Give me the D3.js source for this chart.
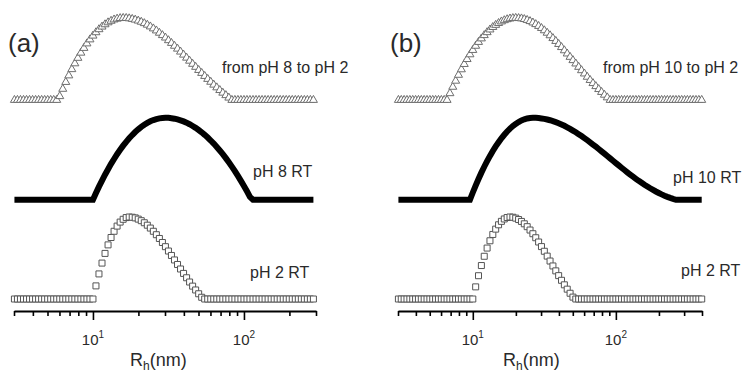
<!DOCTYPE html>
<html>
<head>
<meta charset="utf-8">
<script src="https://cdn.jsdelivr.net/npm/d3@7"></script>
<style>
  body { margin: 0; background: #fff; }
  svg { display: block; }
  text { font-family: "Liberation Sans", Arial, sans-serif; fill: #2a2a2a; }
</style>
</head>
<body>
<svg id="chart" width="746" height="373"></svg>
<script>
// hydrodynamic radius grid (nm), shared by every curve
const rh = [
  3.020, 3.162, 3.311, 3.467, 3.631, 3.802, 3.981, 4.169, 4.365, 4.571,
  4.786, 5.012, 5.248, 5.495, 5.754, 6.026, 6.310, 6.607, 6.918, 7.244,
  7.586, 7.943, 8.318, 8.710, 9.120, 9.550,
  10.00, 10.47, 10.96, 11.48, 12.02, 12.59, 13.18, 13.80, 14.45, 15.14,
  15.85, 16.60, 17.38, 18.20, 19.05, 19.95, 20.89, 21.88, 22.91, 23.99,
  25.12, 26.30, 27.54, 28.84, 30.20, 31.62, 33.11, 34.67, 36.31, 38.02,
  39.81, 41.69, 43.65, 45.71, 47.86, 50.12, 52.48, 54.95, 57.54, 60.26,
  63.10, 66.07, 69.18, 72.44, 75.86, 79.43, 83.18, 87.10, 91.20, 95.50,
  100.0, 104.7, 109.6, 114.8, 120.2, 125.9, 131.8, 138.0, 144.5, 151.4,
  158.5, 166.0, 173.8, 182.0, 190.5, 199.5, 208.9, 218.8, 229.1, 239.9,
  251.2, 263.0, 275.4, 288.4, 302.0, 316.2, 331.1, 346.7, 363.1, 380.2,
  398.1
];

// panel (a) distributions, normalised to 100
const fromPH8 = [
  0, 0, 0, 0, 0, 0, 0, 0, 0, 0, 0, 0, 0, 0, 0,
  4.6, 13.5, 21.9, 29.9, 37.5, 44.6, 51.3, 57.6, 63.4, 68.9, 73.8, 78.4,
  82.5, 86.2, 89.4, 92.2, 94.6, 96.5, 98.1, 99.1, 99.8, 100,
  99.9, 99.5, 98.8, 97.9, 96.7, 95.3, 93.6, 91.7, 89.6, 87.2, 84.7, 81.9,
  79.0, 76.0, 72.8, 69.5, 66.0, 62.5, 58.9, 55.2, 51.5, 47.8, 44.0, 40.3,
  36.5, 32.9, 29.2, 25.6, 22.1, 18.6, 15.3, 12.0, 8.8, 5.8, 2.8,
  0, 0, 0, 0, 0, 0, 0, 0, 0, 0, 0, 0, 0, 0, 0, 0, 0, 0,
  0, 0, 0, 0, 0, 0, 0, 0, 0, 0, 0, 0, 0, 0, 0, 0, 0
];
const pH8RT = [
  0, 0, 0, 0, 0, 0, 0, 0, 0, 0, 0, 0, 0, 0, 0, 0, 0, 0, 0, 0, 0, 0, 0, 0, 0, 0,
  0, 8.2, 16.0, 23.4, 30.6, 37.3, 43.8, 49.8, 55.6, 60.9, 66.0, 70.7, 75.0,
  79.0, 82.6, 85.9, 88.9, 91.5, 93.8, 95.7, 97.2, 98.4, 99.3, 99.8, 100,
  99.9, 99.5, 98.9, 98.0, 96.9, 95.6, 94.0, 92.1, 90.0, 87.7, 85.1, 82.3,
  79.2, 75.9, 72.3, 68.5, 64.4, 60.1, 55.6, 50.8, 45.7, 40.4, 34.9, 29.1,
  23.1, 16.8, 10.3, 3.5,
  0, 0, 0, 0, 0, 0, 0, 0, 0, 0, 0, 0, 0, 0,
  0, 0, 0, 0, 0, 0, 0, 0, 0, 0, 0, 0, 0, 0
];
const pH2RT_a = [
  0, 0, 0, 0, 0, 0, 0, 0, 0, 0, 0, 0, 0, 0, 0, 0, 0, 0, 0, 0, 0, 0, 0, 0, 0, 0,
  0, 16.0, 30.6, 43.8, 55.6, 66.0, 75.0, 82.6, 88.9, 93.8, 97.2, 99.3, 100,
  99.7, 98.9, 97.4, 95.5, 93.0, 90.0, 86.5, 82.6, 78.4, 73.8, 68.9, 63.8,
  58.5, 53.1, 47.6, 42.1, 36.6, 31.2, 25.9, 20.7, 15.7, 11.0, 6.4, 2.1,
  0, 0, 0, 0, 0, 0, 0, 0, 0, 0, 0, 0, 0, 0, 0, 0, 0, 0, 0, 0, 0, 0,
  0, 0, 0, 0, 0, 0, 0, 0, 0, 0, 0, 0, 0, 0, 0, 0, 0, 0, 0, 0, 0, 0
];

// panel (b) distributions, normalised to 100
const fromPH10 = [
  0, 0, 0, 0, 0, 0, 0, 0, 0, 0, 0, 0, 0, 0, 0, 0, 0,
  0, 8.2, 16.0, 23.4, 30.6, 37.3, 43.8, 49.8, 55.6, 60.9, 66.0, 70.7, 75.0,
  79.0, 82.6, 85.9, 88.9, 91.5, 93.8, 95.7, 97.2, 98.4, 99.3, 99.8, 100,
  99.8, 99.4, 98.6, 97.5, 96.1, 94.4, 92.4, 90.2, 87.7, 84.9, 81.9, 78.8,
  75.4, 71.9, 68.2, 64.4, 60.5, 56.6, 52.5, 48.5, 44.4, 40.3, 36.2, 32.2,
  28.2, 24.3, 20.5, 16.8, 13.2, 9.7, 6.3, 3.1,
  0, 0, 0, 0, 0, 0, 0, 0, 0, 0, 0, 0, 0, 0, 0, 0, 0,
  0, 0, 0, 0, 0, 0, 0, 0, 0, 0, 0, 0, 0, 0, 0, 0
];
const pH10RT = [
  0, 0, 0, 0, 0, 0, 0, 0, 0, 0, 0, 0, 0, 0, 0, 0, 0, 0, 0, 0, 0, 0, 0, 0, 0,
  0, 8.9, 17.4, 25.4, 33.1, 40.3, 47.1, 53.5, 59.5, 65.1, 70.2, 75.0, 79.3,
  83.3, 86.8, 89.9, 92.6, 94.8, 96.7, 98.1, 99.2, 99.8, 100,
  99.9, 99.7, 99.2, 98.7, 97.9, 97.0, 95.9, 94.7, 93.4, 91.8, 90.2, 88.4,
  86.5, 84.4, 82.3, 80.0, 77.7, 75.2, 72.7, 70.1, 67.4, 64.7, 61.9, 59.1,
  56.3, 53.4, 50.5, 47.6, 44.8, 41.9, 39.1, 36.3, 33.5, 30.8, 28.2, 25.6,
  23.1, 20.7, 18.4, 16.2, 14.0, 12.0, 10.1, 8.3, 6.6, 5.0, 3.6, 2.3, 1.1,
  0, 0, 0, 0, 0, 0, 0, 0, 0, 0
];
const pH2RT_b = [
  0, 0, 0, 0, 0, 0, 0, 0, 0, 0, 0, 0, 0, 0, 0, 0, 0, 0, 0, 0, 0, 0, 0, 0, 0, 0,
  0, 14.8, 28.4, 40.8, 52.1, 62.1, 71.0, 78.7, 85.2, 90.5, 94.7, 97.6, 99.4, 100,
  99.7, 98.6, 96.9, 94.6, 91.7, 88.2, 84.1, 79.6, 74.7, 69.5, 63.9, 58.2,
  52.3, 46.3, 40.3, 34.3, 28.5, 22.8, 17.3, 12.0, 7.0, 2.3,
  0, 0, 0, 0, 0, 0, 0, 0, 0, 0, 0, 0, 0, 0, 0, 0, 0, 0, 0, 0, 0, 0, 0,
  0, 0, 0, 0, 0, 0, 0, 0, 0, 0, 0, 0, 0, 0, 0, 0, 0, 0, 0, 0, 0, 0
];

// axis ticks and labels
const majorTicks = [10, 100];
const majorExp = ["1", "2"];
const minorTicksA = [3, 4, 5, 6, 7, 8, 9, 20, 30, 40, 50, 60, 70, 80, 90, 200, 300];
const minorTicksB = [3, 4, 5, 6, 7, 8, 9, 20, 30, 40, 50, 60, 70, 80, 90, 200, 300, 400];
const labelsA = ["from pH 8 to pH 2", "pH 8 RT", "pH 2 RT"];
const labelsB = ["from pH 10 to pH 2", "pH 10 RT", "pH 2 RT"];

const svg = d3.select("#chart");
svg.append("rect").attr("width", 746).attr("height", 373).attr("fill", "#fff");

const panels = [
  { tag: "(a)", tagX: 8, xMin: 3, xMax: 300, left: 14, right: 316, minor: minorTicksA,
    series: [fromPH8, pH8RT, pH2RT_a], labels: labelsA,
    labelPos: [[222, 73], [253, 177], [250, 278]], titleX: 130 },
  { tag: "(b)", tagX: 390, xMin: 3, xMax: 400, left: 398, right: 702, minor: minorTicksB,
    series: [fromPH10, pH10RT, pH2RT_b], labels: labelsB,
    labelPos: [[603, 73], [673, 183], [681, 276]], titleX: 503 }
];

const kinds = ["tri", "line", "sq"];
const offsets = [242, 121, 0];
const y = d3.scaleLinear().domain([0, 100]).range([299, 217]);
const axisY = 311;

panels.forEach(p => {
  const x = d3.scaleLog().domain([p.xMin, p.xMax]).range([p.left, p.right]);
  const g = svg.append("g");

  p.series.forEach((vals, si) => {
    const pts = d3.zip(rh, vals).filter(d => d[0] <= p.xMax * 1.001);
    const off = offsets[si];
    if (kinds[si] === "line") {
      g.append("path")
        .datum(pts)
        .attr("fill", "none")
        .attr("stroke", "#000")
        .attr("stroke-width", 6)
        .attr("d", d3.line().x(d => x(d[0])).y(d => y(d[1] + off)));
    } else {
      const isTri = kinds[si] === "tri";
      const sym = d3.symbol().type(isTri ? d3.symbolTriangle : d3.symbolSquare).size(isTri ? 28 : 36);
      g.selectAll(null)
        .data(pts)
        .join("path")
        .attr("d", sym)
        .attr("transform", d => `translate(${x(d[0])},${y(d[1] + off) - (isTri ? 0.5 : 0)})`)
        .attr("fill", "#fff")
        .attr("stroke", isTri ? "#6e6e6e" : "#555")
        .attr("stroke-width", 1);
    }
    const [lx, ly] = p.labelPos[si];
    g.append("text").attr("x", lx).attr("y", ly).attr("font-size", 16).text(p.labels[si]);
  });

  // bottom axis
  const ax = g.append("g")
    .attr("transform", `translate(0,${axisY})`)
    .call(d3.axisBottom(x).tickValues(p.minor.concat(majorTicks)).tickFormat("").tickSize(5).tickSizeOuter(0));
  ax.select(".domain").attr("stroke", "#000").attr("stroke-width", 1.8);
  ax.selectAll(".tick line").attr("stroke", "#000").attr("stroke-width", 1.6)
    .filter(d => majorTicks.includes(d)).attr("y2", 9);

  majorTicks.forEach((t, i) => {
    const tx = g.append("text").attr("x", x(t)).attr("y", 345)
      .attr("text-anchor", "middle").attr("font-size", 15).text("10");
    tx.append("tspan").attr("dy", -7).attr("font-size", 10).text(majorExp[i]);
  });

  const title = g.append("text").attr("x", p.titleX).attr("y", 366).attr("font-size", 18).text("R");
  title.append("tspan").attr("dy", 4).attr("font-size", 12).text("h");
  title.append("tspan").attr("dy", -4).text("(nm)");

  g.append("text").attr("x", p.tagX).attr("y", 52).attr("font-size", 26).text(p.tag);
});
</script>
</body>
</html>
